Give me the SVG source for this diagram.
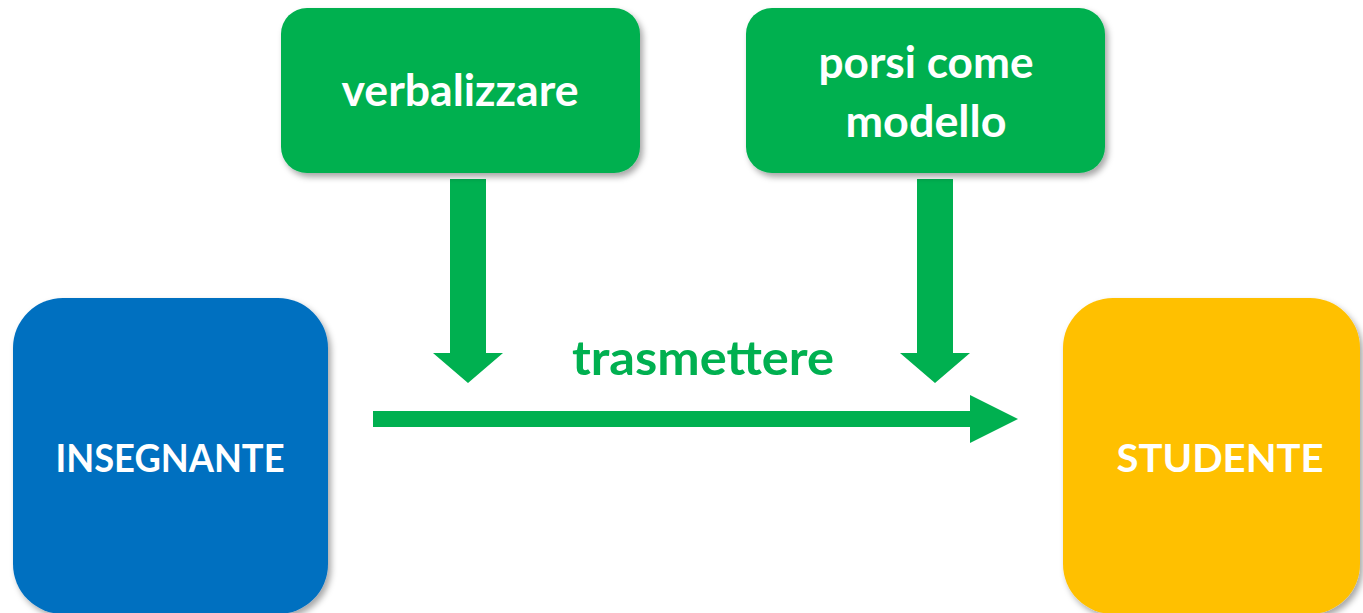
<svg xmlns="http://www.w3.org/2000/svg" width="1363" height="613" viewBox="0 0 1363 613">
  <defs>
    <filter id="sh" x="-10%" y="-10%" width="125%" height="130%">
      <feDropShadow dx="3" dy="4" stdDeviation="3" flood-color="#000" flood-opacity="0.35"/>
    </filter>
  </defs>
  <style>
    .lbl { font-family: Lato, "Open Sans", "Liberation Sans", sans-serif; font-weight: bold; fill: #ffffff; text-anchor: middle; }
    .green { fill: #00B050; }
    .conlbl { font-family: Lato, "Open Sans", "Liberation Sans", sans-serif; font-weight: bold; fill: #00B050; text-anchor: middle; }
  </style>
  <rect width="1363" height="613" fill="#ffffff"/>

  <g id="connectors" class="green">
    <polygon points="450,179 486,179 486,353 503,353 468,383 433,353 450,353"/>
    <polygon points="917,179 953,179 953,353 970,353 935,383 900,353 917,353"/>
    <polygon points="373,411 970,411 970,395 1018,419 970,443 970,427 373,427"/>
    <text class="conlbl" x="703" y="375" font-size="47" textLength="262" lengthAdjust="spacingAndGlyphs">trasmettere</text>
  </g>

  <g id="verbalizzare">
    <rect x="281" y="8" width="359" height="165" rx="26" class="green" filter="url(#sh)"/>
    <text class="lbl" x="460" y="106" font-size="44" textLength="237" lengthAdjust="spacingAndGlyphs">verbalizzare</text>
  </g>

  <g id="porsi">
    <rect x="746" y="8" width="359" height="165" rx="26" class="green" filter="url(#sh)"/>
    <text class="lbl" x="926" y="78" font-size="44" textLength="215" lengthAdjust="spacingAndGlyphs">porsi come</text>
    <text class="lbl" x="926" y="137" font-size="44" textLength="161" lengthAdjust="spacingAndGlyphs">modello</text>
  </g>

  <g id="insegnante">
    <rect x="13" y="298" width="315" height="316" rx="50" fill="#0070C0" filter="url(#sh)"/>
    <text class="lbl" x="170" y="472" font-size="38" textLength="229" lengthAdjust="spacingAndGlyphs">INSEGNANTE</text>
  </g>

  <g id="studente">
    <rect x="1063" y="298" width="297" height="316" rx="50" fill="#FFC000" filter="url(#sh)"/>
    <text class="lbl" x="1220" y="472" font-size="39" textLength="207" lengthAdjust="spacingAndGlyphs">STUDENTE</text>
  </g>
</svg>
